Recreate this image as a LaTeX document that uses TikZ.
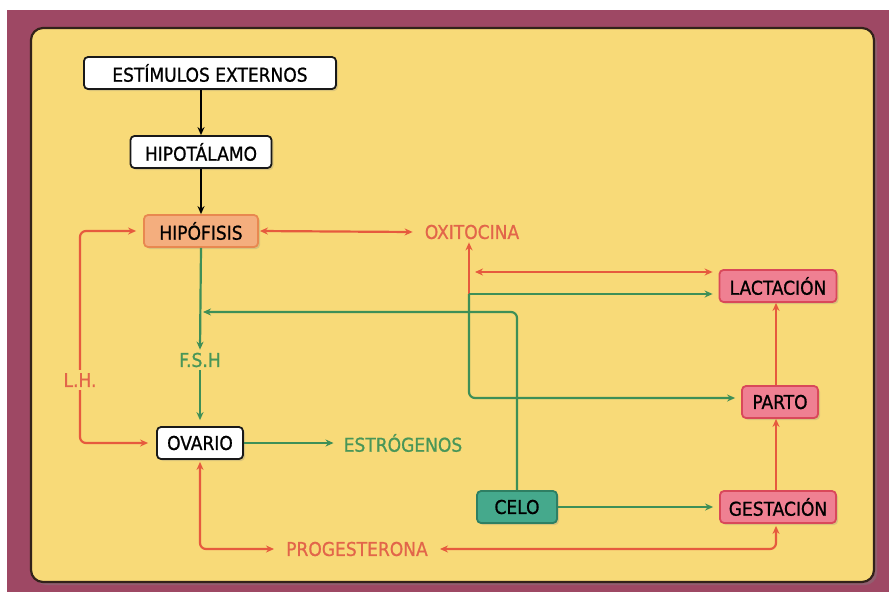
\documentclass[tikz,border=0pt]{standalone}
\usepackage{fontspec}
\setmainfont{DejaVu Sans Condensed}[FakeBold=0.9]
\usetikzlibrary{arrows.meta,shadows}
\definecolor{granate}{RGB}{158,72,100}
\definecolor{amarillo}{RGB}{248,218,120}
\definecolor{borde}{RGB}{50,34,26}
\definecolor{rojo}{RGB}{230,90,62}
\definecolor{rojotxt}{RGB}{226,101,74}
\definecolor{verde}{RGB}{62,143,87}
\definecolor{verdetxt}{RGB}{72,150,88}
\definecolor{rosa}{RGB}{239,128,146}
\definecolor{rosaborde}{RGB}{217,72,90}
\definecolor{naranja}{RGB}{244,174,126}
\definecolor{naranjaborde}{RGB}{232,136,80}
\definecolor{turquesa}{RGB}{69,169,140}
\definecolor{turquesaborde}{RGB}{46,127,99}
\tikzset{
  caja/.style={
    draw,
    rounded corners=4pt,
    line width=1.8pt,
    minimum height=32pt,
    inner sep=0pt,
    font=\fontsize{19}{22}\selectfont,
    drop shadow={shadow xshift=2pt,shadow yshift=-2pt,opacity=0.25}
  },
  blanca/.style={caja,fill=white,draw=black!90},
  rosada/.style={caja,fill=rosa,draw=rosaborde},
  etiqueta/.style={font=\fontsize{19}{22}\selectfont,inner sep=3pt},
  flecha/.style={line width=2.2pt,rounded corners=6pt,-{Stealth[length=8pt,width=7pt]}},
  dobleflecha/.style={line width=2.2pt,rounded corners=6pt,{Stealth[length=8pt,width=7pt]}-{Stealth[length=8pt,width=7pt]}}
}
\begin{document}
\begin{tikzpicture}[x=1pt,y=-1pt]
  \useasboundingbox (0,0) rectangle (889,592);
  % fondo
  \fill[white] (0,0) rectangle (889,592);
  \fill[granate] (7,10) rectangle (889,592);
  \draw[fill=amarillo,draw=borde,line width=2.2pt,rounded corners=12pt,
    drop shadow={shadow xshift=3pt,shadow yshift=-3pt,opacity=0.4}]
    (31,28) rectangle (874,582);

  % cajas
  \node[blanca,minimum width=252pt] (est) at (210,73) {ESTÍMULOS EXTERNOS};
  \node[blanca,minimum width=141pt] (hipot) at (201,152) {HIPOTÁLAMO};
  \node[caja,fill=naranja,draw=naranjaborde,minimum width=114pt] (hipof) at (201,231) {HIPÓFISIS};
  \node[blanca,minimum width=86pt] (ovario) at (200,443) {OVARIO};
  \node[rosada,minimum width=117pt] (lac) at (778,286) {LACTACIÓN};
  \node[rosada,minimum width=76pt] (parto) at (780,402) {PARTO};
  \node[rosada,minimum width=116pt] (gest) at (778,507) {GESTACIÓN};
  \node[caja,fill=turquesa,draw=turquesaborde,minimum width=80pt] (celo) at (517,507) {CELO};

  % textos
  \node[etiqueta,text=verdetxt] (fsh) at (200,360) {F.S.H};
  \node[etiqueta,text=rojotxt] (lh) at (80,380) {L.H.};
  \node[etiqueta,text=verdetxt,inner xsep=10pt] (estr) at (403,443) {ESTRÓGENOS};
  \node[etiqueta,text=rojotxt,inner xsep=12pt] (oxi) at (472,232) {OXITOCINA};
  \node[etiqueta,text=rojotxt,inner xsep=12pt] (prog) at (357,549) {PROGESTERONA};

  % puntos de cruce
  \coordinate (j1) at (469,294);
  \coordinate (r1) at (475,272);
  \coordinate (f1) at (203,312);

  % flechas negras
  \draw[flecha,black] (hipot.north |- est.south) -- (hipot.north);
  \draw[flecha,black] (hipot.south) -- (hipof.north);

  % flechas rojas
  \draw[dobleflecha,rojo,shorten <=1pt] (hipof.east) -- (oxi.west);
  \draw[flecha,rojo,shorten >=7pt] (lh.north) |- (hipof.west);
  \draw[flecha,rojo,shorten >=8pt] (lh.south) |- (ovario.west);
  \draw[flecha,rojo] (j1) -- (j1 |- oxi.south);
  \draw[dobleflecha,rojo,shorten >=6pt] (r1) -- (r1 -| lac.west);
  \draw[flecha,rojo] (parto.north -| 776,0) -- (lac.south -| 776,0);
  \draw[flecha,rojo] (gest.north -| 776,0) -- (parto.south -| 776,0);
  \draw[dobleflecha,rojo,shorten <=2pt] (ovario.south) |- (prog.west);
  \draw[dobleflecha,rojo,shorten <=2pt] (gest.south -| 776,0) |- (prog.east);

  % flechas verdes
  \draw[flecha,verde] (hipof.south) -- (fsh.north);
  \draw[flecha,verde,shorten >=6pt] (fsh.south) -- (ovario.north);
  \draw[flecha,verde] (ovario.east) -- (estr.west);
  \draw[flecha,verde,shorten >=6pt] (celo.east) -- (gest.west);
  \draw[flecha,verde] (celo.north) |- (f1);
  \draw[flecha,verde,shorten >=6pt] (j1) -- (j1 -| lac.west);
  \draw[flecha,verde,shorten >=6pt] (j1) |- (parto.west |- 0,398);
\end{tikzpicture}
\end{document}
